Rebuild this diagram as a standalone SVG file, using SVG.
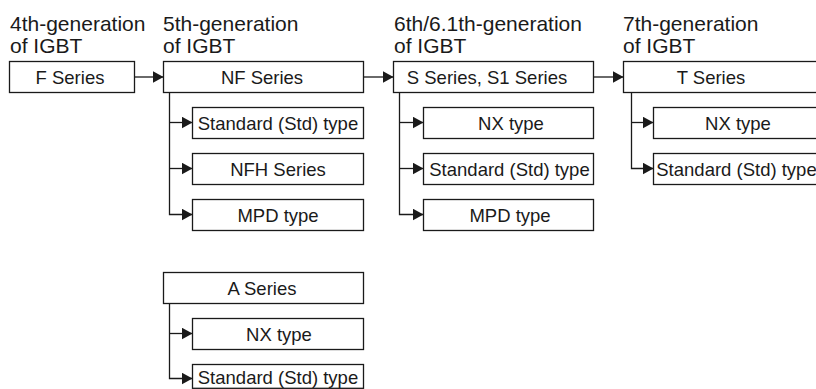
<svg xmlns="http://www.w3.org/2000/svg" width="816" height="389" viewBox="0 0 816 389">
<defs>
<style>
.box{fill:#fff;stroke:#1a1a1a;stroke-width:1.3}
.t{font-family:"Liberation Sans",Arial,sans-serif;font-size:18.5px;fill:#1a1a1a;text-anchor:middle}
.h{font-family:"Liberation Sans",Arial,sans-serif;font-size:21px;fill:#1a1a1a}
.c{fill:none;stroke:#1a1a1a;stroke-width:1.3}
</style>
<marker id="ah" markerUnits="userSpaceOnUse" viewBox="0 0 11 12" refX="11" refY="6" markerWidth="11" markerHeight="12" orient="auto">
<path d="M0,0 L11,6 L0,12 z" fill="#1a1a1a"/>
</marker>
</defs>
<g id="headers">
<text class="h" x="10" y="31">4th-generation</text>
<text class="h" x="10" y="53">of IGBT</text>
<text class="h" x="163" y="31">5th-generation</text>
<text class="h" x="163" y="53">of IGBT</text>
<text class="h" x="394" y="31">6th/6.1th-generation</text>
<text class="h" x="394" y="53">of IGBT</text>
<text class="h" x="623" y="31">7th-generation</text>
<text class="h" x="623" y="53">of IGBT</text>
</g>
<g id="connectors">
<path class="c" d="M134.5,77 H163.5" marker-end="url(#ah)"/>
<path class="c" d="M363.5,77 H393.5" marker-end="url(#ah)"/>
<path class="c" d="M593.5,77 H623.5" marker-end="url(#ah)"/>
<path class="c" d="M169.5,92.5 V214.5 H192.5" marker-end="url(#ah)"/>
<path class="c" d="M169.5,122.5 H192.5" marker-end="url(#ah)"/>
<path class="c" d="M169.5,168.5 H192.5" marker-end="url(#ah)"/>
<path class="c" d="M399.5,92.5 V214.5 H423.5" marker-end="url(#ah)"/>
<path class="c" d="M399.5,122.5 H423.5" marker-end="url(#ah)"/>
<path class="c" d="M399.5,168.5 H423.5" marker-end="url(#ah)"/>
<path class="c" d="M631.5,92.5 V168.5 H653.5" marker-end="url(#ah)"/>
<path class="c" d="M631.5,122.5 H653.5" marker-end="url(#ah)"/>
<path class="c" d="M169.5,303.5 V378.5 H192.5" marker-end="url(#ah)"/>
<path class="c" d="M169.5,333.5 H192.5" marker-end="url(#ah)"/>
</g>
<g id="f-series"><rect class="box" x="9.5" y="61.5" width="125" height="31"/><text class="t" x="70" y="84">F Series</text></g>
<g id="nf-series"><rect class="box" x="163.5" y="61.5" width="200" height="31"/><text class="t" x="262" y="84">NF Series</text></g>
<g id="s-series"><rect class="box" x="393.5" y="61.5" width="200" height="31"/><text class="t" x="487" y="84">S Series, S1 Series</text></g>
<g id="t-series"><rect class="box" x="623.5" y="61.5" width="200" height="31"/><text class="t" x="711" y="84">T Series</text></g>
<g id="nf-std"><rect class="box" x="192.5" y="107.5" width="171" height="31"/><text class="t" x="278" y="130">Standard (Std) type</text></g>
<g id="nf-nfh"><rect class="box" x="192.5" y="153.5" width="171" height="31"/><text class="t" x="278" y="176">NFH Series</text></g>
<g id="nf-mpd"><rect class="box" x="192.5" y="199.5" width="171" height="31"/><text class="t" x="278" y="222">MPD type</text></g>
<g id="s-nx"><rect class="box" x="423.5" y="107.5" width="170" height="31"/><text class="t" x="511" y="130">NX type</text></g>
<g id="s-std"><rect class="box" x="423.5" y="153.5" width="170" height="31"/><text class="t" x="509.5" y="176">Standard (Std) type</text></g>
<g id="s-mpd"><rect class="box" x="423.5" y="199.5" width="170" height="31"/><text class="t" x="510" y="222">MPD type</text></g>
<g id="t-nx"><rect class="box" x="653.5" y="107.5" width="170" height="31"/><text class="t" x="738" y="130">NX type</text></g>
<g id="t-std"><rect class="box" x="653.5" y="153.5" width="170" height="31"/><text class="t" x="736.5" y="176">Standard (Std) type</text></g>
<g id="a-series"><rect class="box" x="163.5" y="272.5" width="200" height="31"/><text class="t" x="262" y="295">A Series</text></g>
<g id="a-nx"><rect class="box" x="192.5" y="318.5" width="171" height="31"/><text class="t" x="279" y="341">NX type</text></g>
<g id="a-std"><rect class="box" x="192.5" y="364.5" width="171" height="23.8"/><text class="t" x="278" y="383.5">Standard (Std) type</text></g>
</svg>
